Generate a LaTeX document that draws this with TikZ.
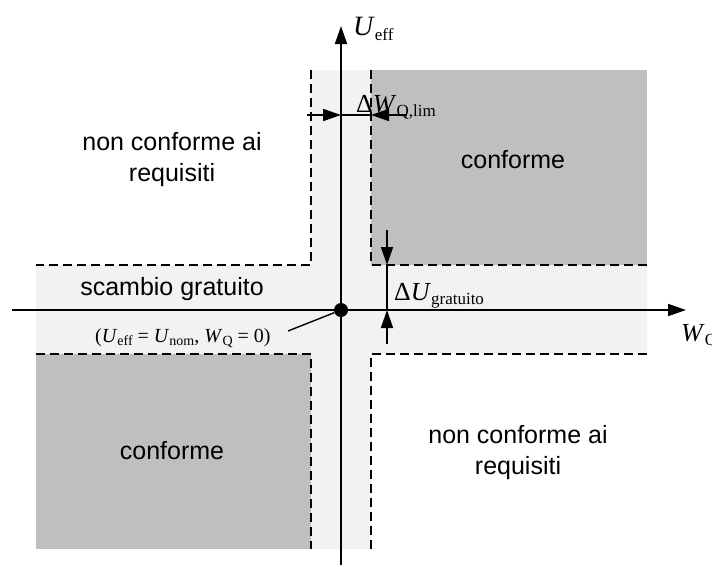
\documentclass[tikz,border=0pt]{standalone}
\usepackage{fontspec}
\setmainfont{Liberation Sans}
\newfontfamily\tms{Liberation Serif}
\usetikzlibrary{arrows.meta}
\definecolor{lightband}{HTML}{F2F2F2}
\definecolor{darkzone}{HTML}{BFBFBF}
\newcommand{\mv}[1]{\textit{#1}}
\newcommand{\lsub}[1]{\raisebox{-0.4ex}{\fontsize{17}{17}\selectfont #1}}
\newcommand{\ssub}[1]{\raisebox{-0.4ex}{\fontsize{14}{14}\selectfont #1}}
\begin{document}
\begin{tikzpicture}[x=1pt,y=-1pt,
  zonelabel/.style={font=\fontsize{25}{31}\selectfont, align=center, inner sep=0pt},
  mathlabel/.style={font=\fontsize{26}{28}\selectfont\tms, inner sep=0pt},
  biglabel/.style={font=\fontsize{28}{30}\selectfont\tms, inner sep=0pt},
  smallmath/.style={font=\fontsize{20}{22}\selectfont\tms, inner sep=0pt},
  axis/.style={line width=1.8pt, -{Triangle[length=18pt,width=12pt]}},
  bound/.style={line width=1.8pt, dash pattern=on 9pt off 5pt},
  dimline/.style={line width=1.6pt},
  dimarrow/.style={line width=1.6pt, -{Triangle[length=18pt,width=12pt]}},
  pointer/.style={line width=1.4pt},
  origin/.style={circle, fill=black, minimum size=14pt, inner sep=0pt},
]
\useasboundingbox (0,0) rectangle (712,566);
% zones
\fill[lightband] (311,70) rectangle (371,549);
\fill[lightband] (36,265) rectangle (647,354);
\fill[darkzone] (371,70) rectangle (647,265);
\fill[darkzone] (36,354) rectangle (311,549);
% boundaries
\draw[bound] (311,70) -- (311,265) -- (36,265);
\draw[bound] (371,70) -- (371,265) -- (647,265);
\draw[bound] (36,354) -- (311,354) -- (311,549);
\draw[bound] (371,549) -- (371,354) -- (647,354);
% axes
\coordinate (xstart) at (12,310);
\coordinate (xend) at (686,310);
\coordinate (ystart) at (341,565);
\coordinate (yend) at (341,26);
\draw[axis] (xstart) -- (xend);
\draw[axis] (ystart) -- (yend);
\node[origin] (O) at (341,310) {};
% axis labels
\node[biglabel, anchor=base west] (Ul) at (353,35) {\mv{U}\lsub{eff}};
\node[mathlabel, anchor=base west] (Wl) at (681,341) {\mv{W}\lsub{Q}};
% Delta W dimension
\coordinate (dwl) at (307,115);
\coordinate (dwa) at (341,115);
\coordinate (dwb) at (371,115);
\coordinate (dwr) at (407,115);
\draw[dimarrow] (dwl) -- (dwa);
\draw[dimline] (dwa) -- (dwb);
\draw[dimarrow] (dwr) -- (dwb);
\node[mathlabel, anchor=base west] (dWl) at (356,112) {Δ\mv{W}\lsub{Q,lim}};
% Delta U dimension
\coordinate (dut) at (387,230);
\coordinate (dua) at (387,265);
\coordinate (dub) at (387,310);
\coordinate (dud) at (387,344);
\draw[dimarrow] (dut) -- (dua);
\draw[dimline] (dua) -- (dub);
\draw[dimarrow] (dud) -- (dub);
\node[mathlabel, anchor=base west] (dUl) at (394,300) {Δ\mv{U}\lsub{gratuito}};
% origin label
\node[smallmath, anchor=base west] (ol) at (95,342) {(\mv{U}\ssub{eff} = \mv{U}\ssub{nom}, \mv{W}\ssub{Q} = 0)};
\coordinate (op) at (288,331);
\draw[pointer] (op) -- (O);
% zone labels
\node[zonelabel] (nc1) at (172,160) {non conforme ai\\requisiti};
\node[zonelabel] (c1) at (513,160) {conforme};
\node[zonelabel] (sg) at (172,289) {scambio gratuito};
\node[zonelabel] (c2) at (172,451) {conforme};
\node[zonelabel] (nc2) at (518,453) {non conforme ai\\requisiti};
\end{tikzpicture}
\end{document}
